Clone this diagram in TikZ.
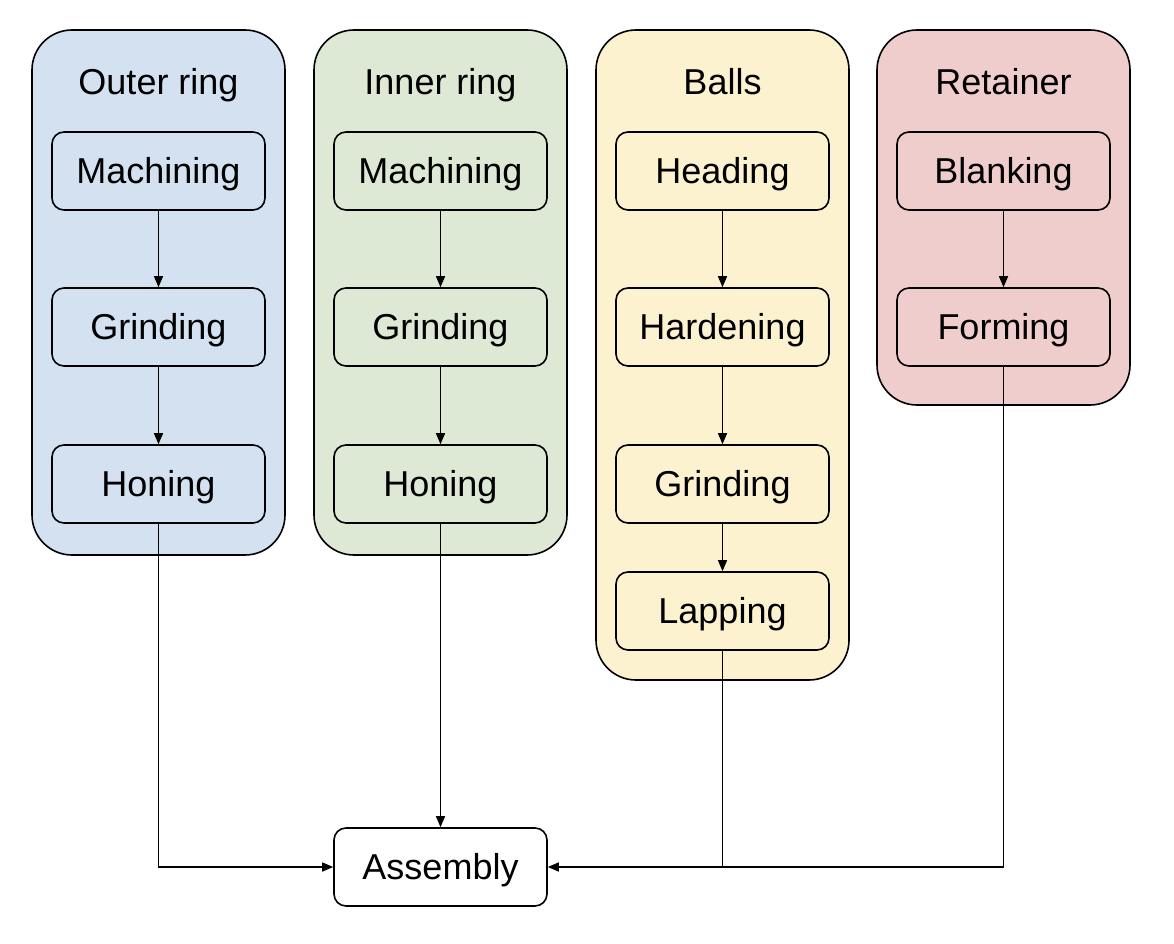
\documentclass[tikz,border=0pt]{standalone}
\usepackage{fontspec}
\setmainfont{Liberation Sans}
\usetikzlibrary{arrows.meta}
\definecolor{cblue}{HTML}{D4E1F1}
\definecolor{cgreen}{HTML}{DDE8D5}
\definecolor{cyellow}{HTML}{FDF2D0}
\definecolor{cred}{HTML}{EFCDCC}
\begin{document}
\begin{tikzpicture}[x=1pt,y=-1pt,
  cluster/.style={draw=black,line width=1.6pt,rounded corners=40pt},
  title/.style={font=\fontsize{36}{42}\selectfont,inner sep=0pt,text height=25.8pt,text depth=0pt},
  stepbox/.style={draw=black,line width=1.6pt,rounded corners=12pt,minimum width=213pt,minimum height=78pt,inner sep=0pt,text height=25.8pt,text depth=0pt,font=\fontsize{36}{42}\selectfont},
  arr/.style={line width=1.4pt,-{Triangle[length=11pt,width=9pt]}},
  ln/.style={line width=1.4pt}]
\useasboundingbox (0,0) rectangle (1174,944);
\fill[white] (0,0) rectangle (1174,944);
% clusters
\draw[cluster,fill=cblue] (32,30) rectangle (285,555);
\draw[cluster,fill=cgreen] (314,30) rectangle (567,555);
\draw[cluster,fill=cyellow] (596,30) rectangle (849,680);
\draw[cluster,fill=cred] (877,30) rectangle (1130,405);
\node[title] (t1) at (158.5,82) {Outer ring};
\node[title] (t2) at (440.5,82) {Inner ring};
\node[title] (t3) at (722.5,82) {Balls};
\node[title] (t4) at (1003.5,82) {Retainer};
% outer ring
\node[stepbox,fill=cblue] (om) at (158.5,171) {Machining};
\node[stepbox,fill=cblue] (og) at (158.5,327) {Grinding};
\node[stepbox,fill=cblue] (oh) at (158.5,484) {Honing};
% inner ring
\node[stepbox,fill=cgreen] (im) at (440.5,171) {Machining};
\node[stepbox,fill=cgreen] (ig) at (440.5,327) {Grinding};
\node[stepbox,fill=cgreen] (ih) at (440.5,484) {Honing};
% balls
\node[stepbox,fill=cyellow] (bh) at (722.5,171) {Heading};
\node[stepbox,fill=cyellow] (bd) at (722.5,327) {Hardening};
\node[stepbox,fill=cyellow] (bg) at (722.5,484) {Grinding};
\node[stepbox,fill=cyellow] (bl) at (722.5,611) {Lapping};
% retainer
\node[stepbox,fill=cred] (rb) at (1003.5,171) {Blanking};
\node[stepbox,fill=cred] (rf) at (1003.5,327) {Forming};
% assembly
\node[stepbox,fill=white] (as) at (440.5,867) {Assembly};
% arrows
\draw[arr] (om) -- (og);
\draw[arr] (og) -- (oh);
\draw[arr] (im) -- (ig);
\draw[arr] (ig) -- (ih);
\draw[arr] (bh) -- (bd);
\draw[arr] (bd) -- (bg);
\draw[arr] (bg) -- (bl);
\draw[arr] (rb) -- (rf);
\draw[arr] (oh.south) |- (as.west);
\draw[arr] (ih) -- (as);
\draw[arr] (bl.south) |- (as.east);
\coordinate (jn) at (bl.south |- as.east);
\draw[ln] (rf.south) |- (jn);
\end{tikzpicture}
\end{document}
